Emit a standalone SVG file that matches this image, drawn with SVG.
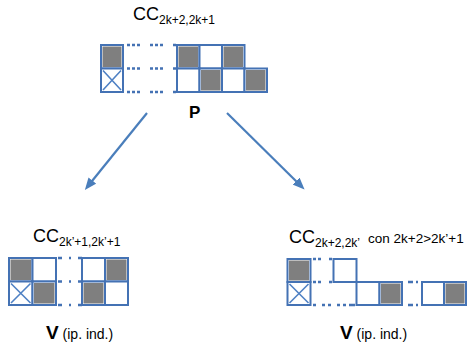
<svg xmlns="http://www.w3.org/2000/svg" width="469" height="349" viewBox="0 0 469 349">
<defs>
<style>
.t{font-family:"Liberation Sans",Arial,sans-serif;fill:#000}
.cell{fill:#fff;stroke:#4472b4;stroke-width:2}
.g{fill:#7f7f7f}
.x{stroke:#4f81c4;stroke-width:1.6;fill:none}
.dot{stroke:#4472b4;stroke-width:2.5;fill:none}
.arr{stroke:#4a7ebb;stroke-width:2.2;fill:none}
</style>
<marker id="ah" markerWidth="12" markerHeight="10" refX="7" refY="5" orient="auto" markerUnits="userSpaceOnUse">
<path d="M0,0 L12,5 L0,10 z" fill="#4a7ebb"/>
</marker>
</defs>
<rect width="469" height="349" fill="#fff"/>

<g id="top">
<text class="t" x="133" y="20" font-size="18">CC<tspan dy="4" font-size="12">2k+2,2k+1</tspan></text>
<rect class="cell" x="101" y="45" width="22" height="23.5"/>
<rect class="g" x="102.5" y="46.5" width="19" height="20.5"/>
<rect class="cell" x="101" y="68.5" width="22" height="23.5"/>
<path class="x" d="M103,70.5 L121,90 M121,70.5 L103,90"/>
<path class="dot" d="M127,45 H176 M127,68.5 H176 M127,92 H176" stroke-dasharray="3 2 3 2 3 10"/>
<rect class="cell" x="177" y="45" width="22.5" height="23.5"/>
<rect class="g" x="178.5" y="46.5" width="19.5" height="20.5"/>
<rect class="cell" x="199.5" y="45" width="22.5" height="23.5"/>
<rect class="cell" x="222" y="45" width="22.5" height="23.5"/>
<rect class="g" x="223.5" y="46.5" width="19.5" height="20.5"/>
<rect class="cell" x="177" y="68.5" width="22.5" height="23.5"/>
<rect class="cell" x="199.5" y="68.5" width="22.5" height="23.5"/>
<rect class="g" x="201" y="70" width="19.5" height="20.5"/>
<rect class="cell" x="222" y="68.5" width="22.5" height="23.5"/>
<rect class="cell" x="244.5" y="68.5" width="22.5" height="23.5"/>
<rect class="g" x="246" y="70" width="19.5" height="20.5"/>
<text class="t" x="189" y="118" font-size="17" font-weight="bold">P</text>
</g>

<g id="connectors">
<line class="arr" x1="147" y1="113" x2="88" y2="186" marker-end="url(#ah)"/>
<line class="arr" x1="227" y1="113" x2="301" y2="186" marker-end="url(#ah)"/>
</g>

<g id="left">
<text class="t" x="33" y="242" font-size="18">CC<tspan dy="4" font-size="12">2k’+1,2k’+1</tspan></text>
<rect class="cell" x="9" y="258" width="23.5" height="23.5"/>
<rect class="g" x="10.5" y="259.5" width="20.5" height="20.5"/>
<rect class="cell" x="32.5" y="258" width="23.5" height="23.5"/>
<rect class="cell" x="9" y="281.5" width="23.5" height="23.5"/>
<path class="x" d="M11,283.5 L30.5,303 M30.5,283.5 L11,303"/>
<rect class="cell" x="32.5" y="281.5" width="23.5" height="23.5"/>
<rect class="g" x="34" y="283" width="20.5" height="20.5"/>
<path class="dot" d="M58,258 H82 M58,281.5 H82 M58,305 H82" stroke-dasharray="4 7 2 7 4"/>
<rect class="cell" x="82" y="258" width="23" height="23.5"/>
<rect class="cell" x="105" y="258" width="23" height="23.5"/>
<rect class="g" x="106.5" y="259.5" width="20" height="20.5"/>
<rect class="cell" x="82" y="281.5" width="23" height="23.5"/>
<rect class="g" x="83.5" y="283" width="20" height="20.5"/>
<rect class="cell" x="105" y="281.5" width="23" height="23.5"/>
<text class="t" x="46" y="339" font-size="19" font-weight="bold">V<tspan font-size="14" font-weight="normal"> (ip. ind.)</tspan></text>
</g>

<g id="right">
<text class="t" x="289" y="243" font-size="18">CC<tspan dy="4" font-size="12">2k+2,2k’</tspan></text>
<text class="t" x="368" y="243" font-size="13.5">con 2k+2&gt;2k’+1</text>
<rect class="cell" x="287.5" y="259" width="23" height="23"/>
<rect class="g" x="289" y="260.5" width="20" height="20"/>
<rect class="cell" x="287.5" y="282" width="23" height="23"/>
<path class="x" d="M289.5,284 L308.5,303 M308.5,284 L289.5,303"/>
<path class="dot" d="M313,259 H333 M313,282 H333" stroke-dasharray="3 2 3 8 3"/>
<path class="dot" d="M313,305 H357" stroke-dasharray="3 6 3 3 3 6 3 3 3"/>
<rect class="cell" x="333.5" y="259" width="23" height="23"/>
<rect class="cell" x="356.5" y="282" width="23" height="23"/>
<rect class="cell" x="379.5" y="282" width="22.5" height="23"/>
<rect class="g" x="381" y="283.5" width="19.5" height="20"/>
<path class="dot" d="M404,282 H422 M404,305 H422" stroke-dasharray="0 4 5 3 2 4"/>
<rect class="cell" x="422" y="282" width="22" height="23"/>
<rect class="cell" x="444" y="282" width="22" height="23"/>
<rect class="g" x="445.5" y="283.5" width="19" height="20"/>
<text class="t" x="340" y="339" font-size="19" font-weight="bold">V<tspan font-size="14" font-weight="normal"> (ip. ind.)</tspan></text>
</g>
</svg>
